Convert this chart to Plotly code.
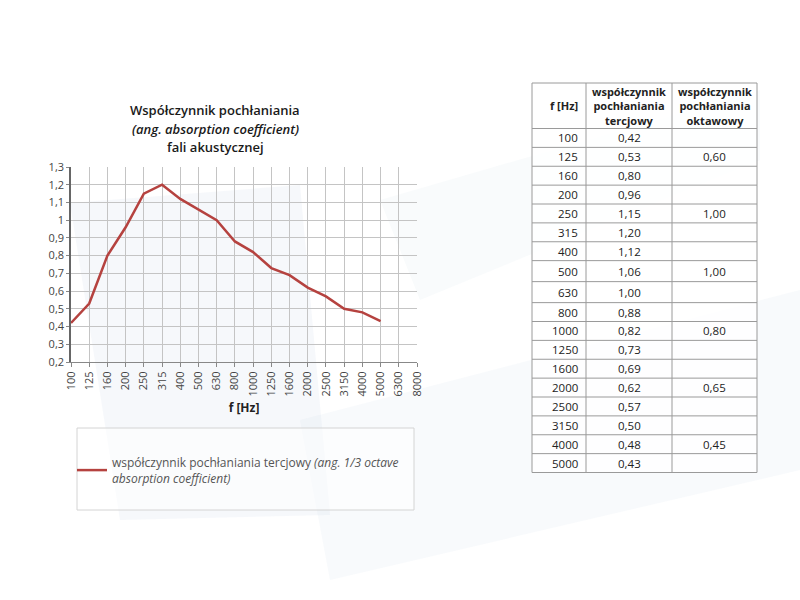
import plotly.graph_objects as go

freqs = ["100", "125", "160", "200", "250", "315", "400", "500", "630", "800",
         "1000", "1250", "1600", "2000", "2500", "3150", "4000", "5000", "6300", "8000"]
tercjowy = [0.42, 0.53, 0.80, 0.96, 1.15, 1.20, 1.12, 1.06, 1.00, 0.88,
            0.82, 0.73, 0.69, 0.62, 0.57, 0.50, 0.48, 0.43, None, None]
oktawowy = [None, 0.60, None, None, 1.00, None, None, 1.00, None, None,
            0.80, None, None, 0.65, None, None, 0.45, None]
table_headers = ["f [Hz]", "współczynnik<br>pochłaniania<br>tercjowy",
                 "współczynnik<br>pochłaniania<br>oktawowy"]

W, H = 800, 600
def px(x):
    return x / W
def py(y):
    return 1 - y / H

LINE = "#b5423f"
FONT = "Open Sans"
GRID = "#c4c4c4"
TLINE = "#9a9a9a"

fig = go.Figure()

fig.add_trace(go.Scatter(
    x=freqs, y=tercjowy, mode="lines",
    line=dict(color=LINE, width=2.5),
    name="współczynnik pochłaniania tercjowy <i>(ang. 1/3 octave</i><br><i>absorption coefficient)</i>",
    showlegend=True,
))

def fmt(v):
    return "" if v is None else f"{v:.2f}".replace(".", ",")

def conv(pts):
    s = ""
    for i, (x, y) in enumerate(pts):
        s += ("M " if i == 0 else " L ") + f"{px(x):.4f},{py(y):.4f}"
    return s + " Z"

shapes = [
    dict(type="path", path=conv([(70, 203), (300, 185), (330, 515), (120, 520)]),
         fillcolor="rgba(205,218,232,0.18)", line=dict(width=0), layer="below"),
    dict(type="path", path=conv([(300, 420), (800, 290), (800, 470), (330, 580)]),
         fillcolor="rgba(205,218,232,0.14)", line=dict(width=0), layer="below"),
    dict(type="path", path=conv([(380, 200), (760, 90), (760, 160), (420, 300)]),
         fillcolor="rgba(205,218,232,0.12)", line=dict(width=0), layer="below"),
]
for s in shapes:
    s["xref"] = "paper"; s["yref"] = "paper"

# legend box
shapes.append(dict(type="rect", xref="paper", yref="paper",
                   x0=px(77), x1=px(414), y0=py(510), y1=py(428),
                   line=dict(color="#d4d4d4", width=1), fillcolor="rgba(255,255,255,0.5)"))

annotations = []
title_font = dict(family=FONT, size=13, color="#1a1a1a", weight=600)
for txt, yy in [("Współczynnik pochłaniania", 110),
                ("<i>(ang. absorption coefficient)</i>", 129),
                ("fali akustycznej", 147)]:
    annotations.append(dict(xref="paper", yref="paper", x=px(215), y=py(yy),
                            xanchor="center", yanchor="middle", text=txt,
                            showarrow=False, font=title_font))

# ---- table (drawn as cells) ----
col_edges = [532, 586, 672, 757]
top, header_bottom, bottom = 83, 128.5, 472.5
n = 18
tall = {"500", "630"}
tall_h = 21.0
normal_h = (bottom - header_bottom - tall_h * len(tall)) / (n - len(tall))
row_edges = [header_bottom]
for f in freqs[:n]:
    row_edges.append(row_edges[-1] + (tall_h if f in tall else normal_h))

shapes.append(dict(type="rect", xref="paper", yref="paper",
                   x0=px(col_edges[0]), x1=px(col_edges[-1]), y0=py(bottom), y1=py(top),
                   line=dict(color=TLINE, width=1), fillcolor="rgba(255,255,255,0.82)",
                   layer="above"))
for xe in col_edges[1:-1]:
    shapes.append(dict(type="line", xref="paper", yref="paper",
                       x0=px(xe), x1=px(xe), y0=py(bottom), y1=py(top),
                       line=dict(color=TLINE, width=1)))
for ye in row_edges[:-1]:
    shapes.append(dict(type="line", xref="paper", yref="paper",
                       x0=px(col_edges[0]), x1=px(col_edges[-1]), y0=py(ye), y1=py(ye),
                       line=dict(color=TLINE, width=1)))

cell_font = dict(family=FONT, size=11.5, color="#222")
head_font = dict(family=FONT, size=11, color="#222", weight="bold")
hy = (top + header_bottom) / 2
annotations.append(dict(xref="paper", yref="paper", x=px(col_edges[1] - 6), y=py(hy),
                        xanchor="right", yanchor="middle", text=table_headers[0],
                        showarrow=False, font=head_font))
for c in (1, 2):
    annotations.append(dict(xref="paper", yref="paper",
                            x=px((col_edges[c] + col_edges[c + 1]) / 2), y=py(hy),
                            xanchor="center", yanchor="middle", text=table_headers[c],
                            showarrow=False, font=head_font, align="center"))
for i in range(n):
    cy = (row_edges[i] + row_edges[i + 1]) / 2
    annotations.append(dict(xref="paper", yref="paper", x=px(col_edges[1] - 6), y=py(cy),
                            xanchor="right", yanchor="middle", text=freqs[i],
                            showarrow=False, font=cell_font))
    for c, vals in ((1, tercjowy), (2, oktawowy)):
        t = fmt(vals[i])
        if t:
            annotations.append(dict(xref="paper", yref="paper",
                                    x=px((col_edges[c] + col_edges[c + 1]) / 2), y=py(cy),
                                    xanchor="center", yanchor="middle", text=t,
                                    showarrow=False, font=cell_font))

fig.update_layout(
    width=W, height=H,
    margin=dict(l=0, r=0, t=0, b=0, autoexpand=False),
    paper_bgcolor="white",
    plot_bgcolor="rgba(0,0,0,0)",
    separators=", ",
    font=dict(family=FONT, size=11, color="#444"),
    shapes=shapes,
    annotations=annotations,
    xaxis=dict(
        domain=[px(71), px(417)],
        type="category",
        range=[0, 19],
        tickangle=-90,
        automargin=False,
        showgrid=True, gridcolor=GRID, gridwidth=1,
        showline=True, linecolor="#888", linewidth=1,
        ticks="outside", ticklen=4, tickcolor="#888",
        tickfont=dict(size=11, color="#444"),
        title=dict(text="<b>f [Hz]</b>", font=dict(size=12, color="#222"), standoff=8),
        fixedrange=True,
    ),
    yaxis=dict(
        domain=[py(362), py(167)],
        range=[0.2, 1.3],
        dtick=0.1, tick0=0.2,
        automargin=False,
        showgrid=True, gridcolor=GRID, gridwidth=1,
        showline=True, linecolor="#666", linewidth=1.5,
        ticks="outside", ticklen=3, tickcolor="#888",
        tickfont=dict(size=11, color="#444"),
        zeroline=False,
        fixedrange=True,
    ),
    showlegend=True,
    legend=dict(
        x=px(72), y=py(448), xanchor="left", yanchor="top",
        xref="paper", yref="paper",
        bgcolor="rgba(0,0,0,0)", borderwidth=0,
        font=dict(family=FONT, size=12, color="#555"),
        itemwidth=30,
    ),
)

fig.write_html("out.html", config={"displayModeBar": False},
               post_script="document.body.style.margin='0px';")
